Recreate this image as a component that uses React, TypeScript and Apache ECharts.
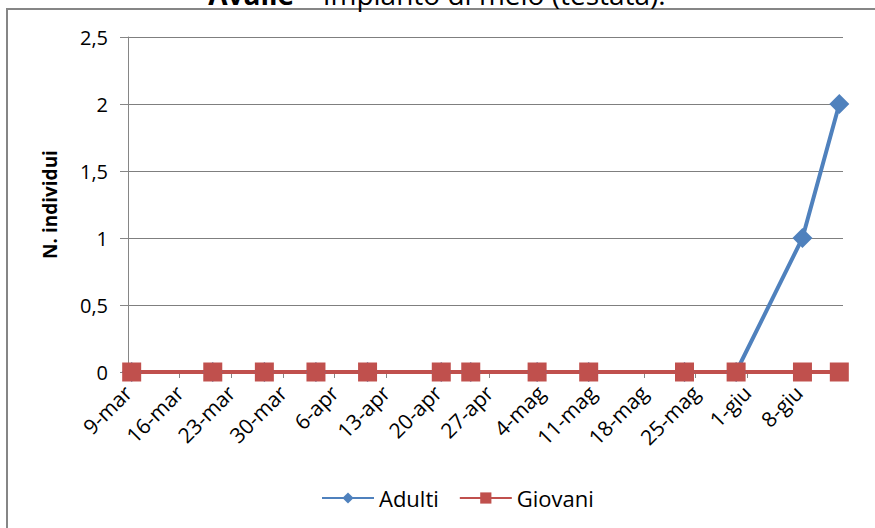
import React, { useEffect, useRef } from "react";
import * as echarts from "echarts";

const AXIS_START = "2015-03-09";
const AXIS_DAYS = 97;
const tickLabels = ["9-mar", "16-mar", "23-mar", "30-mar", "6-apr", "13-apr", "20-apr", "27-apr", "4-mag", "11-mag", "18-mag", "25-mag", "1-giu", "8-giu"];
const sampleDates = ["2015-03-09", "2015-03-20", "2015-03-27", "2015-04-03", "2015-04-10", "2015-04-20", "2015-04-24", "2015-05-03", "2015-05-10", "2015-05-23", "2015-05-30", "2015-06-08", "2015-06-13"];
const adulti = [0, 0, 0, 0, 0, 0, 0, 0, 0, 0, 0, 1, 2];
const giovani = [0, 0, 0, 0, 0, 0, 0, 0, 0, 0, 0, 0, 0];

const FONT = "'Open Sans', 'Noto Sans', sans-serif";
const DAY = 86400000;
const dayOffset = (iso: string) => (Date.parse(iso) - Date.parse(AXIS_START)) / DAY;
const tickValues = tickLabels.map((_, i) => i * 7);
const toPoints = (vals: number[]) => sampleDates.map((d, i) => [dayOffset(d) + 0.5, vals[i]]);

export default function App() {
  const ref = useRef<HTMLDivElement>(null);
  useEffect(() => {
    if (!ref.current) return;
    const chart = echarts.init(ref.current, null, { renderer: "svg" });
    chart.setOption({
      animation: false,
      backgroundColor: "#ffffff",
      textStyle: { fontFamily: FONT },
      graphic: [
        {
          type: "rect",
          shape: { x: 7, y: 9, width: 900, height: 600 },
          style: { fill: "none", stroke: "#868686", lineWidth: 2 },
          silent: true,
        },
        {
          type: "text",
          x: 437,
          y: -6,
          style: {
            text: "{b|Avalle} – Impianto di melo (testata).",
            fontFamily: FONT,
            fontSize: 28,
            fill: "#000",
            align: "center",
            verticalAlign: "middle",
            rich: { b: { fontWeight: "bold", fontSize: 28, fontFamily: FONT, fill: "#000" } },
          },
        },
      ],
      grid: { left: 128, right: 32, top: 37, bottom: 156 },
      legend: {
        bottom: 14,
        left: 316,
        itemWidth: 52,
        itemHeight: 14,
        itemGap: 20,
        textStyle: { fontFamily: FONT, fontSize: 22, color: "#000" },
        data: ["Adulti", "Giovani"],
      },
      xAxis: {
        type: "value",
        min: 0,
        max: AXIS_DAYS,
        axisLine: { show: true, lineStyle: { color: "#868686", width: 1 } },
        axisTick: { show: true, length: 6, customValues: tickValues, lineStyle: { color: "#868686" } },
        axisLabel: {
          customValues: tickValues,
          rotate: 45,
          margin: 17,
          fontFamily: FONT,
          fontSize: 21,
          color: "#000",
          formatter: (v: number) => tickLabels[Math.round(v / 7)] ?? "",
        },
        splitLine: { show: false },
      },
      yAxis: {
        type: "value",
        min: 0,
        max: 2.5,
        interval: 0.5,
        name: "N. individui",
        nameLocation: "middle",
        nameGap: 69,
        nameTextStyle: { fontFamily: FONT, fontSize: 19, fontWeight: "bold", color: "#000" },
        axisLine: { show: true, lineStyle: { color: "#868686", width: 1 } },
        axisTick: { show: true, length: 8, lineStyle: { color: "#868686" } },
        axisLabel: {
          margin: 20,
          fontFamily: FONT,
          fontSize: 20,
          color: "#000",
          formatter: (v: number) => String(v).replace(".", ","),
        },
        splitLine: { show: true, lineStyle: { color: "#7f7f7f", width: 1 } },
      },
      series: [
        {
          name: "Adulti",
          type: "line",
          data: toPoints(adulti),
          symbol: "diamond",
          symbolSize: 20,
          lineStyle: { color: "#4F81BD", width: 4 },
          itemStyle: { color: "#4F81BD" },
        },
        {
          name: "Giovani",
          type: "line",
          data: toPoints(giovani),
          symbol: "rect",
          symbolSize: 19,
          lineStyle: { color: "#C0504D", width: 4 },
          itemStyle: { color: "#C0504D" },
        },
      ],
    });
    return () => chart.dispose();
  }, []);
  return <div ref={ref} style={{ position: "fixed", left: 0, top: 0, width: 875, height: 528 }} />;
}
